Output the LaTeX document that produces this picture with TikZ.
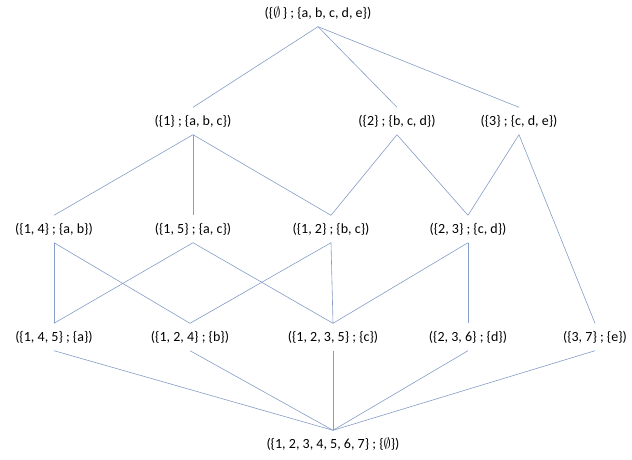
\documentclass[tikz,border=0pt]{standalone}
\usepackage{fontspec}
\setmainfont{Carlito}
\definecolor{edgeblue}{RGB}{132,156,198}
\newcommand\es{\ensuremath{\emptyset}}

\begin{document}
\begin{tikzpicture}[x=1pt, y=-1pt, elem/.style={font=\fontsize{14}{16}\selectfont, minimum height=27pt, inner sep=0pt},
edge/.style={draw=edgeblue, line width=0.6pt}]
\useasboundingbox (0,0) rectangle (632,459);
\node[elem] (top) at (318,13) {(\{\es\,\} ; \{a, b, c, d, e\})};
\node[elem] (s1) at (193,121) {(\{1\} ; \{a, b, c\})};
\node[elem] (s2) at (397,121) {(\{2\} ; \{b, c, d\})};
\node[elem] (s3) at (519,121) {(\{3\} ; \{c, d, e\})};
\node[elem] (s14) at (54,229) {(\{1, 4\} ; \{a, b\})};
\node[elem] (s15) at (193,229) {(\{1, 5\} ; \{a, c\})};
\node[elem] (s12) at (331,229) {(\{1, 2\} ; \{b, c\})};
\node[elem] (s23) at (468,229) {(\{2, 3\} ; \{c, d\})};
\node[elem] (s145) at (54,337) {(\{1, 4, 5\} ; \{a\})};
\node[elem] (s124) at (190,337) {(\{1, 2, 4\} ; \{b\})};
\node[elem] (s1235) at (333,337) {(\{1, 2, 3, 5\} ; \{c\})};
\node[elem] (s236) at (468,337) {(\{2, 3, 6\} ; \{d\})};
\node[elem] (s37) at (595,337) {(\{3, 7\} ; \{e\})};
\node[elem] (all) at (333,444) {(\{1, 2, 3, 4, 5, 6, 7\} ; \{\es\})};
\foreach \a/\b in {top/s1, top/s2, top/s3, s1/s14, s1/s15, s1/s12, s2/s12, s2/s23, s3/s23, s3/s37,
  s14/s145, s14/s124, s15/s145, s15/s1235, s12/s124, s12/s1235, s23/s1235, s23/s236,
  s145/all, s124/all, s1235/all, s236/all, s37/all}
  \draw[edge] (\a.south) -- (\b.north);
\end{tikzpicture}
\end{document}
